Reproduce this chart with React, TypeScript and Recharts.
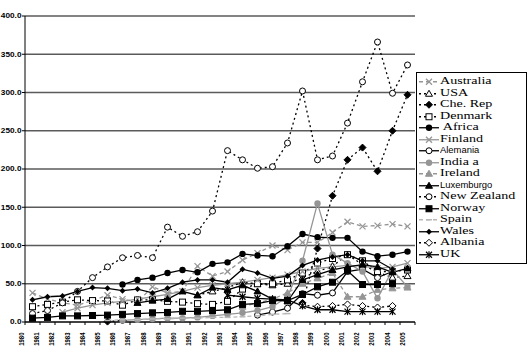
import React from "react";
import { LineChart, Line, XAxis, YAxis, CartesianGrid } from "recharts";

document.body.style.margin = "0";

const years = [
  "1980", "1981", "1982", "1983", "1984", "1985", "1986", "1987", "1988", "1989",
  "1990", "1991", "1992", "1993", "1994", "1995", "1996", "1997", "1998", "1999",
  "2000", "2001", "2002", "2003", "2004", "2005",
];
const yTicks = [0, 50, 100, 150, 200, 250, 300, 350, 400];

const N = null;
// values, one per year 1980..2005
const australia = [38, 30, 25, 22, 28, 35, 30, 26, 46, 38, 40, 73, 60, 66, 81, 90, 100, 94, 104, 104, 117, 131, 125, 126, 128, 125];
const usa = [N, N, N, N, N, N, N, N, N, N, N, 35, 40, 45, 52, 50, 48, 50, 58, 66, 73, 88, 75, 65, 58, 60];
const cheRep = [N, N, N, N, N, 0.5, 2, N, N, N, N, N, N, N, N, N, N, N, 25, 96, 165, 212, 228, 197, 250, 297];
const denmark = [20, 23, 26, 29, 28, 27.5, 22, 29, 29, 27, 26, 24, 23, 27, 43, 50, 50, 55, 64, 77, 83, 88, 80, 66, 66, 68];
const africa = [N, N, N, N, N, N, 49, 55, 58, 64, 68, 65, 76, 78, 89, 87, 86, 99, 115, 111, 110, 110, 92, 86, 88, 92];
const finland = [N, N, 13, 18, 22, 25, 27, 30, 33, 36, 40, 45, 48, 50, 52, 55, 58, 62, 66, 70, 72, 74, 73, 70, 72, 77];
const alemania = [N, N, N, N, N, N, N, N, N, N, N, N, N, N, N, 9, 13, 18, 37, 35, 38, 66, 69, 58, 66, N];
const indiaA = [N, N, N, N, N, N, 2, 3, 4, 5, 5, 6, 8, 10, 12, 15, 20, 33, 80, 155, 88, 77, 66, 31, 68, 46];
const ireland = [N, N, N, N, N, N, N, N, N, N, N, N, N, N, 20, 25, 30, 38, 50, 57, 64, 33, 33, 42, 44, 45];
const luxemburgo = [N, N, N, N, N, N, N, 25, 28, 30, 40, 35, 45, 42, 48, 40, 30, 27, 55, 62, 68, 72, 75, 72, 65, 70];
const newZealand = [11, 15, 25, 40, 58, 72, 84, 87, 84, 124, 112, 118, 145, 224, 212, 201, 203, 234, 302, 212, 217, 260, 314, 366, 299, 336];
const norway = [5, 6, 8, 8, 8.5, 9, 10, 11, 12, 12.5, 14, 14, 15, 16, 23, 24, 28, 28, 36, 46, 52, 67, 49, 49, 50, N];
const spain = [N, N, N, N, N, 2, 3, 3, 4, 4, 5, 5, 6, 6, 7, 8, 10, 11, N, N, N, N, N, N, N, N];
const wales = [29, 33, 34, 40, 45, 44, 41, 43, 38, 44, 52, 55, 55, 52, 69, 64, 57, 60, 74, 81, 85, 88, 80, 80, 69, N];
const albania = [N, N, N, N, N, N, N, N, N, N, N, N, N, N, N, N, N, N, 22, 20, 21, 23, 21, 19, 21, N];
const uk = [N, N, N, N, N, N, N, N, N, N, N, N, N, 35, 33, 31, 30, 29, 21, 16, 16, 13.5, 13.5, 13.5, 13.5, N];

const GRAY = "#959595";
const LIGHT = "#b8b8b8";
const DOTTED = "2 3";
const DASHED = "4 3";

type Mark =
  | "cross" | "triOpen" | "diamond" | "squareOpen" | "circle" | "circleOpen"
  | "tri" | "square" | "dash" | "diamondSmall" | "diamondOpen" | "star";

interface Series {
  key: string;
  name: string;
  values: (number | null)[];
  color: string;
  dash?: string;
  mark: Mark;
  sans?: boolean;
}

const series: Series[] = [
  { key: "australia", name: "Australia", values: australia, color: GRAY, dash: DASHED, mark: "cross" },
  { key: "usa", name: "USA", values: usa, color: "#000", dash: DOTTED, mark: "triOpen" },
  { key: "cheRep", name: "Che. Rep", values: cheRep, color: "#000", dash: DOTTED, mark: "diamond" },
  { key: "denmark", name: "Denmark", values: denmark, color: "#000", dash: DOTTED, mark: "squareOpen" },
  { key: "africa", name: " Africa", values: africa, color: "#000", mark: "circle" },
  { key: "finland", name: "Finland", values: finland, color: GRAY, mark: "cross" },
  { key: "alemania", name: "Alemania", values: alemania, color: "#000", mark: "circleOpen", sans: true },
  { key: "indiaA", name: "India a", values: indiaA, color: GRAY, mark: "circle" },
  { key: "ireland", name: "Ireland", values: ireland, color: GRAY, dash: DASHED, mark: "tri" },
  { key: "luxemburgo", name: "Luxemburgo", values: luxemburgo, color: "#000", mark: "tri", sans: true },
  { key: "newZealand", name: "New Zealand", values: newZealand, color: "#000", dash: DOTTED, mark: "circleOpen" },
  { key: "norway", name: "Norway", values: norway, color: "#000", mark: "square" },
  { key: "spain", name: "Spain", values: spain, color: LIGHT, dash: DASHED, mark: "dash" },
  { key: "wales", name: "Wales", values: wales, color: "#000", mark: "diamondSmall" },
  { key: "albania", name: "Albania", values: albania, color: "#000", dash: DOTTED, mark: "diamondOpen" },
  { key: "uk", name: "UK", values: uk, color: "#000", mark: "star" },
];

const data = years.map((year, i) => {
  const row: Record<string, string | number | null> = { year };
  for (const s of series) row[s.key] = s.values[i];
  return row;
});

function Marker({ kind, x, y, color }: { kind: Mark; x: number; y: number; color: string }) {
  const r = 3;
  switch (kind) {
    case "cross":
      return (
        <g stroke={color} strokeWidth={1.2}>
          <line x1={x - r} y1={y - r} x2={x + r} y2={y + r} />
          <line x1={x - r} y1={y + r} x2={x + r} y2={y - r} />
        </g>
      );
    case "star":
      return (
        <g stroke={color} strokeWidth={1.2}>
          <line x1={x - r} y1={y - r} x2={x + r} y2={y + r} />
          <line x1={x - r} y1={y + r} x2={x + r} y2={y - r} />
          <line x1={x} y1={y - r - 0.5} x2={x} y2={y + r + 0.5} />
        </g>
      );
    case "triOpen":
    case "tri":
      return (
        <polygon
          points={`${x},${y - 3.5} ${x + 3.5},${y + 2.5} ${x - 3.5},${y + 2.5}`}
          fill={kind === "tri" ? color : "#fff"}
          stroke={color}
          strokeWidth={1}
        />
      );
    case "diamond":
    case "diamondOpen":
      return (
        <polygon
          points={`${x},${y - 3.5} ${x + 3.5},${y} ${x},${y + 3.5} ${x - 3.5},${y}`}
          fill={kind === "diamond" ? color : "#fff"}
          stroke={color}
          strokeWidth={1}
        />
      );
    case "diamondSmall":
      return <polygon points={`${x},${y - 3} ${x + 3},${y} ${x},${y + 3} ${x - 3},${y}`} fill={color} />;
    case "squareOpen":
    case "square":
      return (
        <rect x={x - 3} y={y - 3} width={6} height={6} fill={kind === "square" ? color : "#fff"} stroke={color} strokeWidth={1} />
      );
    case "circle":
      return <circle cx={x} cy={y} r={3.2} fill={color} />;
    case "circleOpen":
      return <circle cx={x} cy={y} r={3} fill="#fff" stroke={color} strokeWidth={1} />;
    case "dash":
      return <line x1={x - 3} y1={y} x2={x + 3} y2={y} stroke={color} strokeWidth={1.5} />;
  }
  return null;
}

function dotFor(s: Series) {
  return (p: any) => {
    if (p.cx == null || p.cy == null || p.value == null) return <g key={p.index} />;
    return (
      <g key={p.index}>
        <Marker kind={s.mark} x={p.cx} y={p.cy} color={s.color} />
      </g>
    );
  };
}

function YearTick(props: any) {
  const { x, payload, index } = props;
  const axisY = 322;
  // Excel draws the rotated labels a little left of the category centre
  const shift = -11.5 + index * 0.24;
  return (
    <g>
      <line x1={x - 7.5} y1={axisY} x2={x - 7.5} y2={axisY + 3} stroke="#000" />
      {index === years.length - 1 && <line x1={x + 7.5} y1={axisY} x2={x + 7.5} y2={axisY + 3} stroke="#000" />}
      <text
        transform={`translate(${x + shift},${332.5}) scale(1.3,1) rotate(-90)`}
        textAnchor="end"
        dominantBaseline="central"
        fontFamily="Liberation Sans, Arial, sans-serif"
        fontWeight="bold"
        fontSize={6}
        fill="#000"
      >
        {payload.value}
      </text>
    </g>
  );
}

function ValueTick(props: any) {
  const { x, y, payload } = props;
  return (
    <text
      transform={`translate(${x + 1.5},${y}) scale(1.18,1)`}
      textAnchor="end"
      dominantBaseline="central"
      fontFamily="Liberation Sans, Arial, sans-serif"
      fontWeight="bold"
      fontSize={7}
      fill="#000"
    >
      {Number(payload.value).toFixed(1)}
    </text>
  );
}

function LegendBox() {
  return (
    <div
      style={{
        position: "absolute",
        left: 416,
        top: 72,
        width: 111,
        height: 192,
        border: "1px solid #000",
        background: "#fff",
        boxSizing: "border-box",
        paddingTop: 3,
      }}
    >
      {series.map((s) => (
        <div key={s.key} style={{ height: 11.5, position: "relative" }}>
          <svg width={22} height={11.5} style={{ position: "absolute", left: 1, top: 0 }}>
            <line x1={1} y1={5.75} x2={21} y2={5.75} stroke={s.color} strokeWidth={1.3} strokeDasharray={s.dash} />
            <Marker kind={s.mark} x={11} y={5.75} color={s.color} />
          </svg>
          <span
            style={{
              position: "absolute",
              left: 23,
              top: s.sans ? 0 : -1,
              fontFamily: s.sans ? "Liberation Sans, Arial, sans-serif" : "Liberation Serif, Times New Roman, serif",
              fontSize: s.sans ? 8.2 : 10.2,
              lineHeight: "12px",
              whiteSpace: "pre",
              transform: s.sans ? "scaleX(1.15)" : "scaleX(1.38)",
              transformOrigin: "left center",
              color: "#000",
            }}
          >
            {s.name}
          </span>
        </div>
      ))}
    </div>
  );
}

export default function App() {
  return (
    <div style={{ position: "relative", width: 531, height: 354, background: "#fff" }}>
      <LineChart width={531} height={354} data={data} margin={{ top: 16, right: 116, bottom: 0, left: 0 }}>
        <CartesianGrid vertical={false} stroke="#5a5a5a" strokeWidth={1.5} />
        <XAxis
          dataKey="year"
          height={32}
          interval={0}
          padding={{ left: 7.5, right: 7.5 }}
          axisLine={{ stroke: "#000" }}
          tickLine={false}
          tick={<YearTick />}
        />
        <YAxis
          width={25}
          domain={[0, 400]}
          ticks={yTicks}
          interval={0}
          axisLine={{ stroke: "#000" }}
          tickLine={{ stroke: "#000" }}
          tickSize={3}
          tick={<ValueTick />}
        />
        {series.map((s) => (
          <Line
            key={s.key}
            dataKey={s.key}
            name={s.name}
            stroke={s.color}
            strokeWidth={1.3}
            strokeDasharray={s.dash}
            dot={dotFor(s)}
            activeDot={false}
            connectNulls={false}
            isAnimationActive={false}
          />
        ))}
      </LineChart>
      <LegendBox />
    </div>
  );
}
